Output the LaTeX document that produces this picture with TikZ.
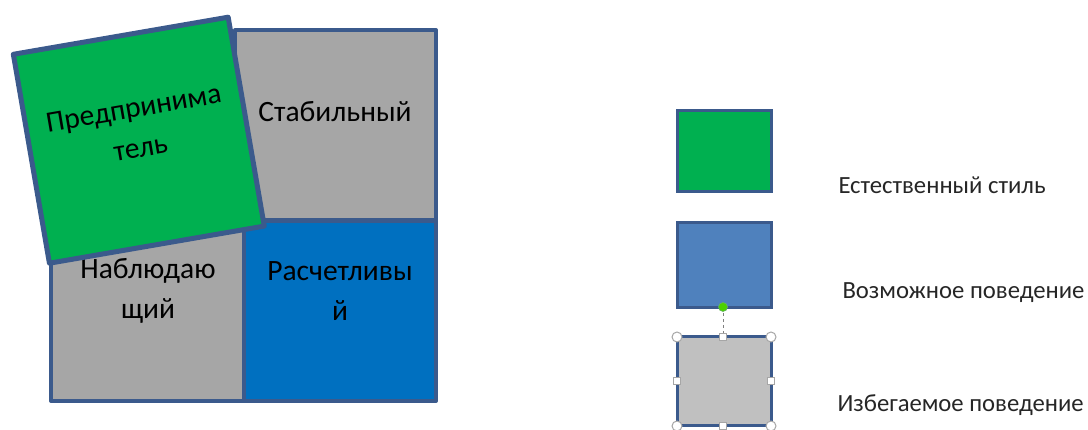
\documentclass[tikz,border=0pt]{standalone}
\usepackage{fontspec}
\setmainfont{Carlito}
\begin{document}
\begin{tikzpicture}[x=1pt,y=-1pt,
  bord/.style={draw=bordc,line width=4pt,line join=round},
  lbord/.style={draw=bordc,line width=3pt},
  qtext/.style={font=\fontsize{29.5}{40}\selectfont,align=center,text=black},
  ltext/.style={font=\fontsize{24.7}{30}\selectfont,anchor=west,text=black!85},
  handle/.style={draw=gray!70,fill=white,line width=1pt}]
\definecolor{bordc}{HTML}{3B5A8C}
\definecolor{qgray}{HTML}{A6A6A6}
\definecolor{qblue}{HTML}{0070C0}
\definecolor{qgreen}{HTML}{00B050}
\definecolor{lblue}{HTML}{4F81BD}
\definecolor{lgray}{HTML}{C0C0C0}
\useasboundingbox (0,0) rectangle (1088,430);
% quadrant
\draw[bord,fill=qgray] (235,30) rectangle (436,220);
\draw[bord,fill=qgray] (51,222) rectangle (244,401);
\draw[bord,fill=qblue] (244,221) rectangle (436,401);
\node[qtext] (stab) at (335,112) {Стабильный};
\node[qtext] (nabl) at (148,291) {Наблюдаю\\щий};
\node[qtext] (rasch) at (340,291) {Расчетливы\\й};
% rotated green square
\node[bord,line width=5pt,fill=qgreen,rotate=9.8,minimum width=218pt,minimum height=212pt,inner sep=0pt] (pred) at (138.8,140.2) {};
\node[qtext,rotate=9.8] (predt) at (137,128) {Предпринима\\тель};
% legend
\draw[lbord,fill=qgreen] (677,111) rectangle (771,192);
\draw[lbord,fill=lblue] (677,223) rectangle (771,308);
\draw[lbord,fill=lgray] (677,337) rectangle (771,426);
\coordinate (rot) at (723,307);
\coordinate (topmid) at (723,337);
\draw[gray,dashed,line width=1pt] (rot) -- (topmid);
\fill[green!70!black!60!lime,draw=green!50!black!60,line width=0.6pt] (rot) circle (4.5pt);
\foreach \p in {(677,337),(771,337),(677,426),(771,426)} \draw[handle] \p circle (5pt);
\foreach \p in {(723,337),(677,381),(771,381),(723,426)} \draw[handle] \p ++(-3.5,-3.5) rectangle ++(7,7);
\node[ltext] (l1) at (835,185) {Естественный стиль};
\node[ltext] (l2) at (839,293) {Возможное поведение};
\node[ltext] (l3) at (834,405) {Избегаемое поведение};
\end{tikzpicture}
\end{document}
